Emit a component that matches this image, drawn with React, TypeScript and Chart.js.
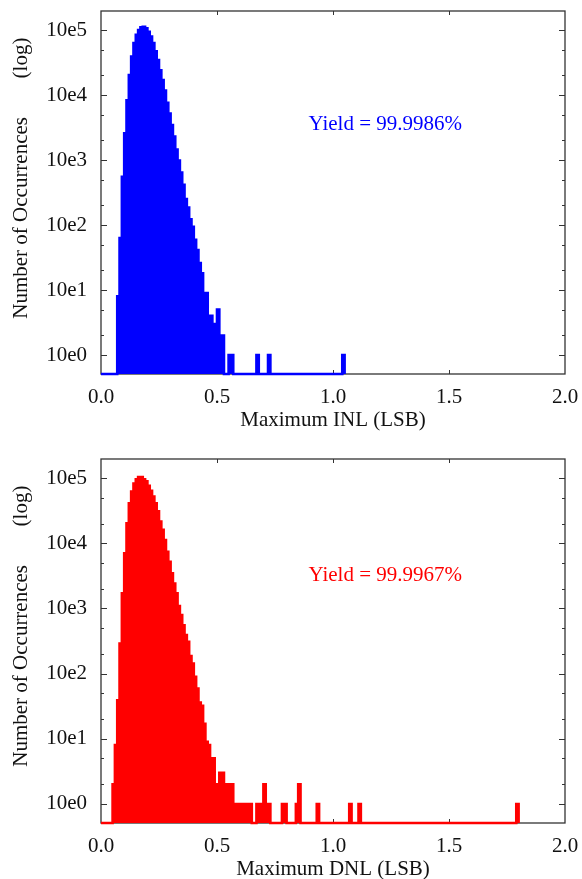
import React, { useEffect, useRef } from "react";
import { Chart, registerables } from "chart.js";

Chart.register(...registerables);

// ---------- data ----------
const BIN = 0.01; // histogram bin width (LSB)
const Y_MIN = 0.51;
const Y_MAX = 196000;
const X_TICKS = [0, 0.5, 1.0, 1.5, 2.0];
const Y_DECADES = [0, 1, 2, 3, 4, 5];
const TICK_MULTIPLIERS = [1, 2, 5];

// Maximum INL histogram: counts of consecutive bins starting at inlFirstBin
const inlFirstBin = 0.07;
const inlCounts = [
  8, 63, 550, 2570, 8300, 20300, 39000, 63000, 84000, 100000,
  110000, 112000, 106000, 94000, 79000, 63000, 47000, 34500, 24000, 17000,
  11700, 7600, 5200, 3450, 2290, 1450, 980, 640, 415, 250,
  186, 122, 94, 59, 41, 26, 18, 9, 9, 4,
  4, 3, 3, 5, 2, 2,
];
const inlTailBins = [0.55, 0.56, 0.67, 0.72, 1.04];
const inlTailCounts = [1, 1, 1, 1, 1];
const inlYield = "Yield = 99.9986%";

// Maximum DNL histogram
const dnlFirstBin = 0.05;
const dnlCounts = [
  2, 8, 39, 290, 1700, 7000, 20300, 41000, 62000, 82000,
  96000, 104000, 104000, 96000, 89000, 76000, 64000, 52000, 41000, 31000,
  21500, 16000, 11200, 7400, 5200, 3450, 2400, 1700, 1090, 790,
  550, 390, 307, 185, 142, 89, 59, 36, 32, 17,
  9, 8, 5, 5, 2, 2, 3, 3, 2, 2,
  2, 2, 1, 1, 1, 1, 1, 1, 1, 1,
];
const dnlTailBins = [0.67, 0.68, 0.69, 0.70, 0.71, 0.72, 0.78, 0.79, 0.84, 0.85, 0.93, 1.07, 1.11, 1.79];
const dnlTailCounts = [1, 1, 1, 2, 1, 1, 1, 1, 1, 2, 1, 1, 1, 1];
const dnlYield = "Yield = 99.9967%";

const FONT = '"Liberation Serif", "Times New Roman", serif';
const FONT_SIZE = 21;

type Panel = {
  first: number;
  counts: number[];
  tailBins: number[];
  tailCounts: number[];
  color: string;
  xTitle: string;
  yieldText: string;
  yieldX: number;
  yieldY: number;
  padTop: number;
  xAxisHeight: number;
  height: number;
};

// Step outline of the histogram; empty bins sit on the log axis floor.
function histogramPoints(p: Panel) {
  const lastBin = Math.max(...p.tailBins, p.first + (p.counts.length - 1) * BIN);
  const n = Math.round(lastBin / BIN) + 1;
  const bins: number[] = new Array(n).fill(0);
  const off = Math.round(p.first / BIN);
  p.counts.forEach((c, i) => (bins[off + i] = c));
  p.tailBins.forEach((b, i) => (bins[Math.round(b / BIN)] = p.tailCounts[i]));
  const yv = (c: number) => (c > 0 ? c : Y_MIN);
  const pts = bins.map((c, i) => ({ x: +(i * BIN).toFixed(4), y: yv(c) }));
  const endX = +(n * BIN).toFixed(4);
  pts.push({ x: endX, y: yv(bins[n - 1]) });
  pts.push({ x: endX, y: Y_MIN });
  return pts;
}

const decor = {
  id: "decor",
  beforeDatasetsDraw(chart: any) {
    const { ctx, chartArea: a } = chart;
    const x = chart.scales.x;
    const y = chart.scales.y;
    ctx.save();
    ctx.strokeStyle = "#333";
    ctx.lineWidth = 1.3;
    ctx.strokeRect(a.left, a.top, a.right - a.left, a.bottom - a.top);
    ctx.lineWidth = 1;
    const seg = (x1: number, y1: number, x2: number, y2: number) => {
      ctx.beginPath();
      ctx.moveTo(x1, y1);
      ctx.lineTo(x2, y2);
      ctx.stroke();
    };
    for (let d = -1; d <= 5; d++) {
      for (const m of TICK_MULTIPLIERS) {
        const v = m * Math.pow(10, d);
        if (v <= y.min || v >= y.max) continue;
        const py = Math.round(y.getPixelForValue(v)) + 0.5;
        const len = m === 1 ? 6 : 3;
        seg(a.left, py, a.left + len, py);
        seg(a.right, py, a.right - len, py);
      }
    }
    for (const t of X_TICKS) {
      if (t <= x.min || t >= x.max) continue;
      const px = Math.round(x.getPixelForValue(t)) + 0.5;
      seg(px, a.bottom, px, a.bottom - 4);
      seg(px, a.top, px, a.top + 4);
    }
    ctx.restore();
  },
  afterDatasetsDraw(chart: any, _args: any, opts: any) {
    const { ctx, chartArea: a } = chart;
    const x = chart.scales.x;
    const y = chart.scales.y;
    ctx.save();
    ctx.font = `${FONT_SIZE}px ${FONT}`;
    ctx.fillStyle = "#111";
    ctx.textBaseline = "middle";
    ctx.textAlign = "center";
    ctx.fillText(opts.xTitle, (a.left + a.right) / 2, a.bottom + 46);

    ctx.save();
    ctx.translate(21, a.top + 106);
    ctx.rotate(-Math.PI / 2);
    ctx.textAlign = "right";
    ctx.fillText("Number of Occurrences", 0, 0);
    ctx.restore();
    ctx.save();
    ctx.translate(21, a.top + 47);
    ctx.rotate(-Math.PI / 2);
    ctx.textAlign = "center";
    ctx.fillText("(log)", 0, 0);
    ctx.restore();

    ctx.fillStyle = opts.color;
    ctx.textAlign = "center";
    ctx.fillText(opts.yieldText, x.getPixelForValue(opts.yieldX), y.getPixelForValue(opts.yieldY));
    ctx.restore();
  },
};

function HistChart({ p }: { p: Panel }) {
  const ref = useRef<HTMLCanvasElement | null>(null);
  useEffect(() => {
    if (!ref.current) return;
    const chart = new Chart(ref.current, {
      type: "line",
      data: {
        datasets: [
          {
            data: histogramPoints(p) as any,
            borderColor: p.color,
            backgroundColor: p.color,
            borderWidth: 2.6,
            stepped: "before",
            fill: "start",
            pointRadius: 0,
            tension: 0,
            borderJoinStyle: "miter",
            borderCapStyle: "butt",
            clip: 4,
          } as any,
        ],
      },
      options: {
        animation: false,
        responsive: false,
        devicePixelRatio: 1,
        layout: { padding: { top: p.padTop, right: 17, left: 0, bottom: 0 } },
        plugins: {
          legend: { display: false },
          tooltip: { enabled: false },
          decor: {
            color: p.color,
            xTitle: p.xTitle,
            yieldText: p.yieldText,
            yieldX: p.yieldX,
            yieldY: p.yieldY,
          },
        } as any,
        scales: {
          x: {
            type: "linear",
            offset: false,
            min: 0,
            max: 2,
            grid: { display: false, drawTicks: false },
            border: { display: false },
            afterBuildTicks: (s: any) => {
              s.ticks = X_TICKS.map((v) => ({ value: v }));
            },
            afterFit: (s: any) => {
              s.height = p.xAxisHeight;
              s.paddingLeft = 0;
              s.paddingRight = 0;
            },
            ticks: {
              autoSkip: false,
              maxRotation: 0,
              padding: 11,
              color: "#111",
              font: { family: FONT, size: FONT_SIZE },
              callback: (v: any) => Number(v).toFixed(1),
            },
          },
          y: {
            type: "logarithmic",
            min: Y_MIN,
            max: Y_MAX,
            grid: { display: false, drawTicks: false },
            border: { display: false },
            afterBuildTicks: (s: any) => {
              s.ticks = Y_DECADES.map((d) => ({ value: Math.pow(10, d) }));
            },
            afterFit: (s: any) => {
              s.width = 101;
              s.paddingTop = 0;
              s.paddingBottom = 0;
            },
            ticks: {
              padding: 14,
              color: "#111",
              font: { family: FONT, size: FONT_SIZE },
              callback: (v: any) => "10e" + Math.round(Math.log10(Number(v))),
            },
          },
        },
      },
      plugins: [decor as any],
    });
    return () => chart.destroy();
  }, [p]);
  return (
    <div style={{ width: 582, height: p.height, position: "relative" }}>
      <canvas ref={ref} width={582} height={p.height} style={{ display: "block" }} />
    </div>
  );
}

const topPanel: Panel = {
  first: inlFirstBin,
  counts: inlCounts,
  tailBins: inlTailBins,
  tailCounts: inlTailCounts,
  color: "#0000ff",
  xTitle: "Maximum INL (LSB)",
  yieldText: inlYield,
  yieldX: 1.225,
  yieldY: 3500,
  padTop: 11,
  xAxisHeight: 66,
  height: 440,
};

const bottomPanel: Panel = {
  first: dnlFirstBin,
  counts: dnlCounts,
  tailBins: dnlTailBins,
  tailCounts: dnlTailCounts,
  color: "#ff0000",
  xTitle: "Maximum DNL (LSB)",
  yieldText: dnlYield,
  yieldX: 1.225,
  yieldY: 3200,
  padTop: 19,
  xAxisHeight: 56,
  height: 439,
};

export default function App() {
  return (
    <div style={{ position: "absolute", left: 0, top: 0, width: 582, height: 879, background: "#fff" }}>
      <HistChart p={topPanel} />
      <HistChart p={bottomPanel} />
    </div>
  );
}
